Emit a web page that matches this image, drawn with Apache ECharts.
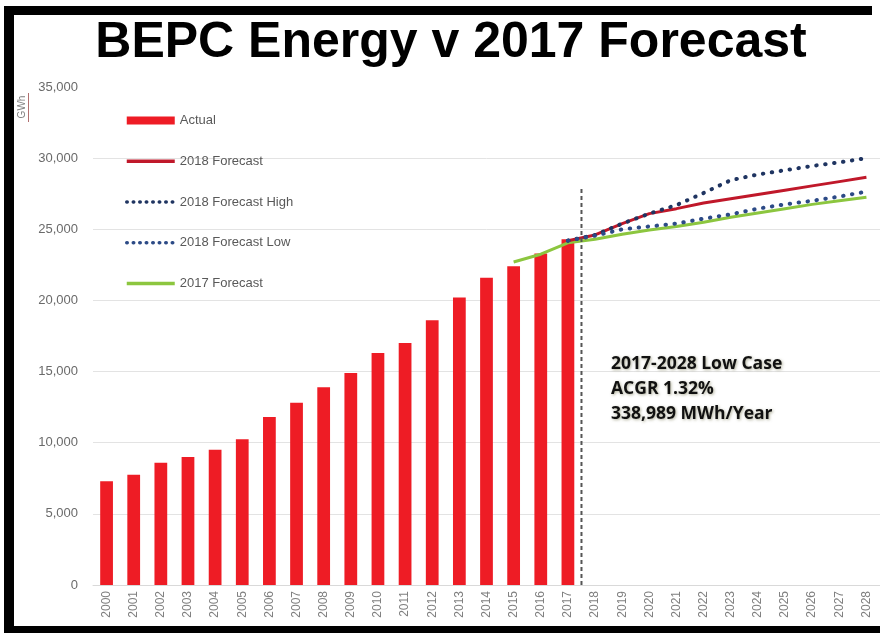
<!DOCTYPE html>
<html>
<head>
<meta charset="utf-8">
<script src="https://cdn.jsdelivr.net/npm/echarts@6/dist/echarts.min.js"></script>
<style>
html,body{margin:0;padding:0;background:#fff;}
#chart{width:880px;height:633px;}
</style>
</head>
<body>
<div id="chart"></div>
<script>
var years = ['2000','2001','2002','2003','2004','2005','2006','2007','2008','2009','2010','2011','2012','2013','2014','2015','2016','2017','2018','2019','2020','2021','2022','2023','2024','2025','2026','2027','2028'];
var actual = [7300,7750,8600,9000,9500,10250,11800,12800,13900,14900,16300,17000,18600,20200,21600,22400,23300,24300,null,null,null,null,null,null,null,null,null,null,null];
var forecast2018 = [null,null,null,null,null,null,null,null,null,null,null,null,null,null,null,null,null,24200,24600,25400,26100,26450,26850,27150,27450,27750,28050,28350,28650];
var forecast2018High = [null,null,null,null,null,null,null,null,null,null,null,null,null,null,null,null,null,24200,24600,25400,26100,26700,27550,28450,28850,29150,29450,29700,30000];
var forecast2018Low = [null,null,null,null,null,null,null,null,null,null,null,null,null,null,null,null,null,24200,24550,25000,25200,25400,25750,26050,26450,26750,27000,27300,27650];
var forecast2017 = [null,null,null,null,null,null,null,null,null,null,null,null,null,null,null,22700,23250,24050,24300,24650,24950,25200,25500,25850,26150,26450,26750,27000,27250];
var divider = [[17.5, 0], [17.5, 28000]];
var yTicks = [0, 5000, 10000, 15000, 20000, 25000, 30000, 35000];
var legendNames = ['Actual','2018 Forecast','2018 Forecast High','2018 Forecast Low','2017 Forecast'];
var titleText = 'BEPC Energy v 2017 Forecast';
var noteText = '2017-2028 Low Case\nACGR 1.32%\n338,989 MWh/Year';

var chart = echarts.init(document.getElementById('chart'), null, {renderer:'canvas'});
var dotStyle = function(c){ return {color:c, width:4, type:[0.5,8.5], cap:'round'}; };
var hideSym = {opacity:0};
var legDot = function(c){ return {color:c, width:3.5, type:[0.5,6], cap:'round'}; };
var option = {
  backgroundColor:'#ffffff',
  animation:false,
  title:{
    text:titleText, left:446, top:13, textAlign:'center',
    textStyle:{fontFamily:'Liberation Sans', fontWeight:'bold', fontSize:50, color:'#000'}
  },
  legend:{
    data:[
      {name:legendNames[0], icon:'rect'},
      {name:legendNames[1], itemStyle:hideSym, lineStyle:{color:'#c0182a', width:3.5}},
      {name:legendNames[2], itemStyle:hideSym, lineStyle:legDot('#1f3461')},
      {name:legendNames[3], itemStyle:hideSym, lineStyle:legDot('#2c4a86')},
      {name:legendNames[4], itemStyle:hideSym, lineStyle:{color:'#8cc63f', width:3.5}}
    ],
    orient:'vertical', left:120, top:109, itemWidth:48, itemHeight:8, itemGap:27.75,
    textStyle:{fontFamily:'Liberation Sans', fontSize:13, color:'#595959'}
  },
  grid:{left:93, top:87, width:793, height:498},
  xAxis:[{
    type:'category', data:years, boundaryGap:true,
    axisLine:{lineStyle:{color:'#d9d9d9'}}, axisTick:{show:false},
    axisLabel:{interval:0, rotate:90, margin:6, fontFamily:'Liberation Sans', fontSize:12, color:'#7f7f7f'}
  },{
    type:'value', min:-0.5, max:28.5, show:false
  }],
  yAxis:{
    type:'value', min:yTicks[0], max:yTicks[yTicks.length-1], interval:5000,
    axisLine:{show:false}, axisTick:{show:false},
    axisLabel:{margin:15, fontFamily:'Liberation Sans', fontSize:13, color:'#6a6a6a',
      formatter:function(v){return v.toLocaleString('en-US');}},
    splitLine:{lineStyle:{color:['#d9d9d9','#e3e3e3','#e3e3e3','#e3e3e3','#e3e3e3','#e3e3e3','#e3e3e3','rgba(0,0,0,0)']}}
  },
  series:[
    {name:'Actual', type:'bar', data:actual, barWidth:'47%', itemStyle:{color:'#ee1c25'}},
    {name:'2018 Forecast', type:'line', data:forecast2018, symbol:'none', lineStyle:{color:'#c0182a', width:3}, itemStyle:{color:'#c0182a'}, z:4},
    {name:'2018 Forecast High', type:'line', data:forecast2018High, symbol:'none', lineStyle:dotStyle('#1f3461'), itemStyle:{color:'#1f3461'}, z:5},
    {name:'2018 Forecast Low', type:'line', data:forecast2018Low, symbol:'none', lineStyle:dotStyle('#2c4a86'), itemStyle:{color:'#2c4a86'}, z:5},
    {name:'2017 Forecast', type:'line', data:forecast2017, symbol:'none', lineStyle:{color:'#8cc63f', width:3}, itemStyle:{color:'#8cc63f'}, z:3},
    {name:'divider', type:'line', xAxisIndex:1, data:divider, symbol:'none', silent:true,
      lineStyle:{color:'#555', width:2, type:[4,3]}, z:6}
  ],
  graphic:[
    {type:'text', left:611, top:352, z:10, style:{
      text:noteText, fontFamily:'Open Sans', fontWeight:'bold', fontSize:17.5, lineHeight:25, fill:'#111',
      textShadowColor:'rgba(110,110,70,0.55)', textShadowBlur:3, textShadowOffsetX:1, textShadowOffsetY:1}},
    {type:'text', x:22, y:107, rotation:Math.PI/2, z:10, style:{
      text:'GWh', fontFamily:'Liberation Sans', fontSize:10, fill:'#7f7f7f', align:'center', verticalAlign:'middle'}},
    {type:'rect', shape:{x:28, y:93, width:1, height:29}, style:{fill:'#b07070'}, z:10},
    {type:'rect', shape:{x:6, y:6, width:866, height:9}, style:{fill:'#000'}, z:20},
    {type:'rect', shape:{x:4, y:6, width:10, height:627}, style:{fill:'#000'}, z:20},
    {type:'rect', shape:{x:4, y:626, width:876, height:7}, style:{fill:'#000'}, z:20}
  ]
};
chart.setOption(option);
</script>
</body>
</html>
